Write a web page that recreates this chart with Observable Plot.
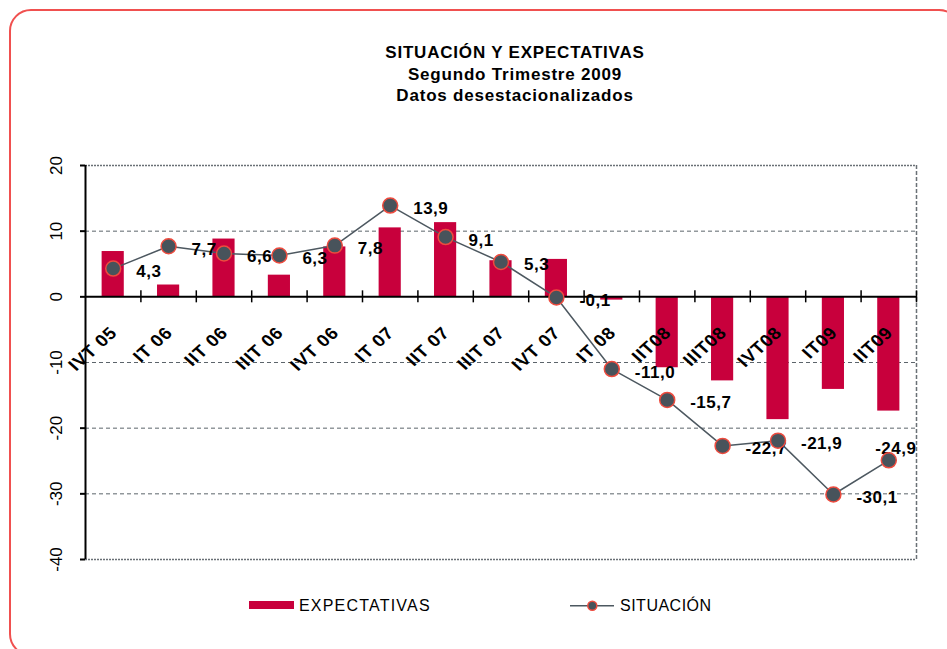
<!DOCTYPE html>
<html>
<head>
<meta charset="utf-8">
<script src="https://cdn.jsdelivr.net/npm/d3@7"></script>
<script src="https://cdn.jsdelivr.net/npm/@observablehq/plot@0.6"></script>
<style>
html, body { margin: 0; padding: 0; background: #fff; }
#wrap { position: relative; width: 947px; height: 649px; overflow: hidden; font-family: "Liberation Sans", Arial, sans-serif; color: #000; }
#chart { position: absolute; left: 0; top: 0; }
#border { position: absolute; left: 9px; top: 9px; width: 952px; height: 647px; border: 2px solid #f0504f; border-radius: 22px; box-sizing: border-box; pointer-events: none; }
#title { position: absolute; left: 315px; width: 400px; top: 42px; text-align: center; font-weight: bold; font-size: 17px; line-height: 21.5px; letter-spacing: 0.8px; }
.legtxt { position: absolute; top: 596.5px; font-size: 16px; line-height: 18px; letter-spacing: 0.5px; white-space: nowrap; }
#legbar { position: absolute; left: 249px; top: 601px; width: 45px; height: 8px; }
#legline { position: absolute; left: 566px; top: 596px; }
</style>
</head>
<body>
<div id="wrap">
  <div id="chart"></div>
  <div id="title"></div>
  <div id="legbar"></div>
  <div class="legtxt" id="legE" style="left:299px; letter-spacing:1.2px"></div>
  <svg id="legline" width="52" height="20"></svg>
  <div class="legtxt" id="legS" style="left:620px"></div>
  <div id="border"></div>
</div>
<script>
// ---- data ----
const tituloLineas = ["SITUACIÓN Y EXPECTATIVAS", "Segundo Trimestre 2009", "Datos desestacionalizados"];
const categorias = ["IVT 05", "IT 06", "IIT 06", "IIIT 06", "IVT 06", "IT 07", "IIT 07", "IIIT 07", "IVT 07", "IT 08", "IIT08", "IIIT08", "IVT08", "IT09", "IIT09"];
const expectativas = [6.9, 1.8, 8.8, 3.3, 7.6, 10.5, 11.3, 5.5, 5.7, -0.5, -10.8, -12.8, -18.7, -14.1, -17.4];
const situacion = [4.3, 7.7, 6.6, 6.3, 7.8, 13.9, 9.1, 5.3, -0.1, -11.0, -15.7, -22.7, -21.9, -30.1, -24.9];
const yTicks = [-40, -30, -20, -10, 0, 10, 20];
const gridY = [10, -10, -20, -30];
const serieNombres = ["EXPECTATIVAS", "SITUACIÓN"];

// ---- colours ----
const colorBarra = "#c8003c";
const colorLinea = "#4d5860";
const colorPunto = "#48535b";
const colorBordePunto = "#ee4b3e";
const colorGrid = "#5c646b";

const datos = categorias.map((c, i) => ({cat: c, exp: expectativas[i], sit: situacion[i]}));
const n = datos.length;
const fmt = v => v.toFixed(1).replace(".", ",");

const W = 947, H = 649, mL = 85, mR = 31, mT = 165, mB = 90;
const half = (W - mL - mR) / n / 2;
const font = '"Liberation Sans", Arial, sans-serif';

const chart = Plot.plot({
  width: W, height: H,
  marginLeft: mL, marginRight: mR, marginTop: mT, marginBottom: mB,
  style: {fontFamily: font, background: "transparent", overflow: "visible"},
  x: {type: "band", domain: categorias, paddingInner: 0.6, paddingOuter: 0.3, round: false, axis: null},
  y: {domain: [d3.min(yTicks), d3.max(yTicks)], axis: null},
  marks: [
    Plot.ruleY(gridY, {stroke: colorGrid, strokeDasharray: "4,3", strokeWidth: 1}),
    Plot.ruleY([d3.max(yTicks), d3.min(yTicks)], {stroke: "#6a7076", strokeDasharray: "2,1", strokeWidth: 1.5}),
    Plot.ruleX([categorias[n - 1]], {dx: half, stroke: "#6a7076", strokeDasharray: "4,2", strokeWidth: 1.5}),
    Plot.barY(datos, {x: "cat", y: "exp", fill: colorBarra}),
    Plot.ruleY([0], {stroke: "black", strokeWidth: 2}),
    Plot.ruleX(categorias, {dx: half, y1: 0, y2: 0, insetTop: -6, insetBottom: -6, stroke: "black", strokeWidth: 1.5}),
    Plot.ruleX([categorias[0]], {dx: -half, stroke: "black", strokeWidth: 2}),
    Plot.axisY({ticks: yTicks, tickSize: 5, tickFormat: () => "", stroke: "black", strokeWidth: 2, label: null, anchor: "left"}),
    Plot.text(yTicks, {y: d => d, text: d => String(d), frameAnchor: "left", textAnchor: "middle", dx: -29, rotate: -90, fontSize: 17, fill: "black"}),
    Plot.text(datos, {x: "cat", y: () => 0, text: "cat", rotate: -45, textAnchor: "end", lineAnchor: "bottom", dx: 5, dy: 37, fontSize: 17, fontWeight: "bold", fill: "black"}),
    Plot.line(datos, {x: "cat", y: "sit", stroke: colorLinea, strokeWidth: 1.5}),
    Plot.text(datos, {filter: (d, i) => i < n - 1, x: "cat", y: "sit", text: d => fmt(d.sit), textAnchor: "start", dx: 23, dy: 3, fontSize: 17, fontWeight: "bold", fill: "black"}),
    Plot.text(datos, {filter: (d, i) => i === n - 1, x: "cat", y: "sit", text: d => fmt(d.sit), textAnchor: "middle", dx: 7, dy: -12, fontSize: 17, fontWeight: "bold", fill: "black"}),
    Plot.dot(datos, {x: "cat", y: "sit", r: 7.5, fill: colorPunto, stroke: colorBordePunto, strokeWidth: 1.5})
  ]
});

// the reference renders its slanted labels slightly widened horizontally
const catSet = new Set(categorias);
const allText = [...chart.querySelectorAll("text")];
const xl = allText.filter(t => catSet.has(t.textContent));
const vl = allText.filter(t => /^-?\d+,\d$/.test(t.textContent));
xl.forEach(t => {
  t.style.letterSpacing = "0.6px";
  const tr = t.getAttribute("transform") || "";
  t.setAttribute("transform", tr.replace("rotate(", "scale(1.11,1) rotate("));
});
vl.forEach(t => { t.style.letterSpacing = "0.5px"; });
document.getElementById("chart").appendChild(chart);

// title
document.getElementById("title").innerHTML = tituloLineas.map(t => `<div>${t}</div>`).join("");

// legend
document.getElementById("legbar").style.background = colorBarra;
document.getElementById("legE").textContent = serieNombres[0];
document.getElementById("legS").textContent = serieNombres[1];
const lg = d3.select("#legline");
lg.append("line").attr("x1", 4).attr("x2", 48).attr("y1", 9.7).attr("y2", 9.7).attr("stroke", colorLinea).attr("stroke-width", 1.5);
lg.append("circle").attr("cx", 26.3).attr("cy", 9.7).attr("r", 4.5).attr("fill", colorPunto).attr("stroke", colorBordePunto).attr("stroke-width", 1.5);
</script>
</body>
</html>
